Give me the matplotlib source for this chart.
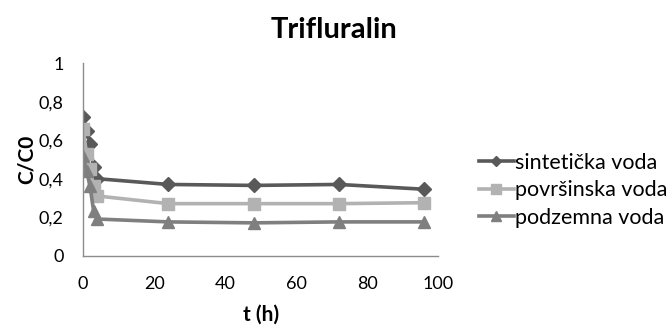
import matplotlib
matplotlib.use("Agg")
from matplotlib import pyplot as plt

plt.rcParams['font.family'] = ['Lato', 'DejaVu Sans']

# vrijeme (h)
t = [0, 1, 2, 3, 4, 24, 48, 72, 96]

sinteticka = [0.72, 0.65, 0.58, 0.46, 0.40, 0.37, 0.365, 0.37, 0.345]
povrsinska = [0.66, 0.53, 0.45, 0.36, 0.31, 0.27, 0.27, 0.27, 0.275]
podzemna = [0.52, 0.44, 0.36, 0.23, 0.19, 0.175, 0.17, 0.175, 0.175]

names = ["sintetička voda", "površinska voda", "podzemna voda"]

xticks = [0, 20, 40, 60, 80, 100]
yticks = [0, 0.2, 0.4, 0.6, 0.8, 1]
yticklabels = ["0", "0,2", "0,4", "0,6", "0,8", "1"]

fig = plt.figure(figsize=(6.72, 3.34), dpi=100)
ax = fig.add_axes([0.1235, 0.235, 0.529, 0.575])

ax.plot(t, sinteticka, color="#595959", lw=2.6, marker="D", ms=7, label=names[0])
ax.plot(t, povrsinska, color="#b2b2b2", lw=2.6, marker="s", ms=9, label=names[1])
ax.plot(t, podzemna, color="#7f7f7f", lw=2.6, marker="^", ms=9, label=names[2])

ax.set_xlim(0, 100)
ax.set_ylim(0, 1)
ax.set_xticks(xticks)
ax.set_yticks(yticks)
ax.set_yticklabels(yticklabels)
ax.tick_params(length=0, labelsize=13)
ax.tick_params(axis="x", pad=15)
ax.tick_params(axis="y", pad=14)

for s in ["top", "right"]:
    ax.spines[s].set_visible(False)
for s in ["left", "bottom"]:
    ax.spines[s].set_color("#8c8c8c")
    ax.spines[s].set_linewidth(1)

# naslov centriran na cijeloj slici
fig.text(0.497, 0.91, "Trifluralin", fontsize=21, fontweight="bold",
         ha="center", va="center")
ax.set_xlabel("t (h)", fontsize=15, fontweight="bold", labelpad=9)
ax.set_ylabel("C/C0", fontsize=15, fontweight="bold", labelpad=1)

ax.legend(loc="center left", bbox_to_anchor=(1.06, 0.34), frameon=False,
          fontsize=15.5, handlelength=1.6, handletextpad=0.05, labelspacing=0.35,
          markerscale=0.75)

plt.savefig("out.png", dpi=100)
